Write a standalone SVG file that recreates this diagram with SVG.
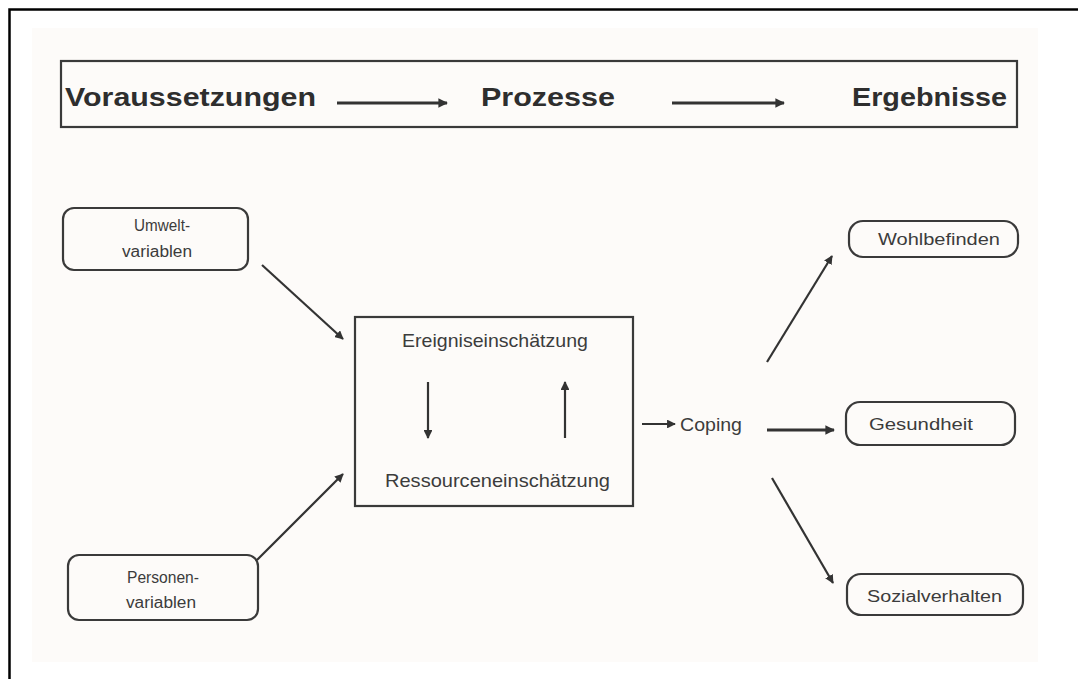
<svg xmlns="http://www.w3.org/2000/svg" width="1078" height="679" viewBox="0 0 1078 679">
<style>
.hdr{font-family:"Liberation Sans",Arial,sans-serif;font-weight:bold;font-size:25px;fill:#2e2e2e}
.t{font-family:"Liberation Sans",Arial,sans-serif;font-size:16px;fill:#3c3c3c}
.tm{font-family:"Liberation Sans",Arial,sans-serif;font-size:19px;fill:#3c3c3c}
.box{fill:none;stroke:#3a3a3a;stroke-width:2.2}
.ln{fill:none;stroke:#333;stroke-width:2.2}
.thick{fill:none;stroke:#333;stroke-width:3.2}
</style>
<defs>
<marker id="ah" viewBox="0 0 10 10" refX="9" refY="5" markerWidth="4" markerHeight="4" orient="auto" markerUnits="strokeWidth">
<path d="M0,0 L10,5 L0,10 z" fill="#333"/>
</marker>
<marker id="ahs" viewBox="0 0 10 10" refX="9" refY="5" markerWidth="3" markerHeight="3" orient="auto" markerUnits="strokeWidth">
<path d="M0,0 L10,5 L0,10 z" fill="#333"/>
</marker>
</defs>
<rect x="0" y="0" width="1078" height="679" fill="#ffffff"/>
<rect x="32" y="28" width="1006" height="634" fill="#fdfbf9"/>
<path d="M9.5,679 L9.5,9.5 L1078,9.5" fill="none" stroke="#000" stroke-width="2.5"/>

<g id="header">
<rect class="box" x="61" y="61" width="956" height="66" stroke-width="2.6"/>
<text class="hdr" x="65" y="106" textLength="251" lengthAdjust="spacingAndGlyphs">Voraussetzungen</text>
<text class="hdr" x="481" y="106" textLength="134" lengthAdjust="spacingAndGlyphs">Prozesse</text>
<text class="hdr" x="852" y="106" textLength="155" lengthAdjust="spacingAndGlyphs">Ergebnisse</text>
</g>

<g id="umwelt">
<rect class="box" x="63" y="208" width="185" height="62" rx="11"/>
<text class="t" x="162" y="231" text-anchor="middle" textLength="56" lengthAdjust="spacingAndGlyphs">Umwelt-</text>
<text class="t" x="157" y="257" text-anchor="middle" textLength="70" lengthAdjust="spacingAndGlyphs">variablen</text>
</g>

<g id="personen">
<rect class="box" x="68" y="555" width="190" height="65" rx="11"/>
<text class="t" x="163" y="583" text-anchor="middle" textLength="72" lengthAdjust="spacingAndGlyphs">Personen-</text>
<text class="t" x="161" y="608" text-anchor="middle" textLength="70" lengthAdjust="spacingAndGlyphs">variablen</text>
</g>

<g id="einschaetzung">
<rect class="box" x="355" y="317" width="278" height="189" stroke-width="2.6"/>
<text class="tm" x="402" y="347" textLength="186" lengthAdjust="spacingAndGlyphs">Ereigniseinschätzung</text>
<text class="tm" x="385" y="487" textLength="225" lengthAdjust="spacingAndGlyphs">Ressourceneinschätzung</text>
</g>

<g id="coping">
<text class="tm" x="680" y="431" textLength="62" lengthAdjust="spacingAndGlyphs">Coping</text>
</g>

<g id="wohlbefinden">
<rect class="box" x="849" y="221" width="169" height="36" rx="14"/>
<text class="t" x="878" y="245" textLength="122" lengthAdjust="spacingAndGlyphs">Wohlbefinden</text>
</g>

<g id="gesundheit">
<rect class="box" x="846" y="402" width="169" height="43" rx="14"/>
<text class="t" x="869" y="430" textLength="104" lengthAdjust="spacingAndGlyphs">Gesundheit</text>
</g>

<g id="sozialverhalten">
<rect class="box" x="847" y="574" width="176" height="41" rx="14"/>
<text class="t" x="867" y="602" textLength="135" lengthAdjust="spacingAndGlyphs">Sozialverhalten</text>
</g>

<g id="connectors">
<line class="thick" x1="337" y1="103" x2="447" y2="103" marker-end="url(#ahs)"/>
<line class="thick" x1="672" y1="103" x2="784" y2="103" marker-end="url(#ahs)"/>
<line class="ln" x1="262" y1="265" x2="343" y2="339" marker-end="url(#ah)"/>
<line class="ln" x1="257" y1="560" x2="343" y2="474" marker-end="url(#ah)"/>
<line class="ln" x1="428" y1="382" x2="428" y2="438" marker-end="url(#ah)"/>
<line class="ln" x1="565" y1="438" x2="565" y2="382" marker-end="url(#ah)"/>
<line class="ln" x1="642" y1="424" x2="675" y2="424" marker-end="url(#ah)"/>
<line class="thick" x1="767" y1="430" x2="834" y2="430" marker-end="url(#ahs)"/>
<line class="ln" x1="767" y1="362" x2="832" y2="256" marker-end="url(#ah)"/>
<line class="ln" x1="772" y1="478" x2="833" y2="583" marker-end="url(#ah)"/>
</g>
</svg>
